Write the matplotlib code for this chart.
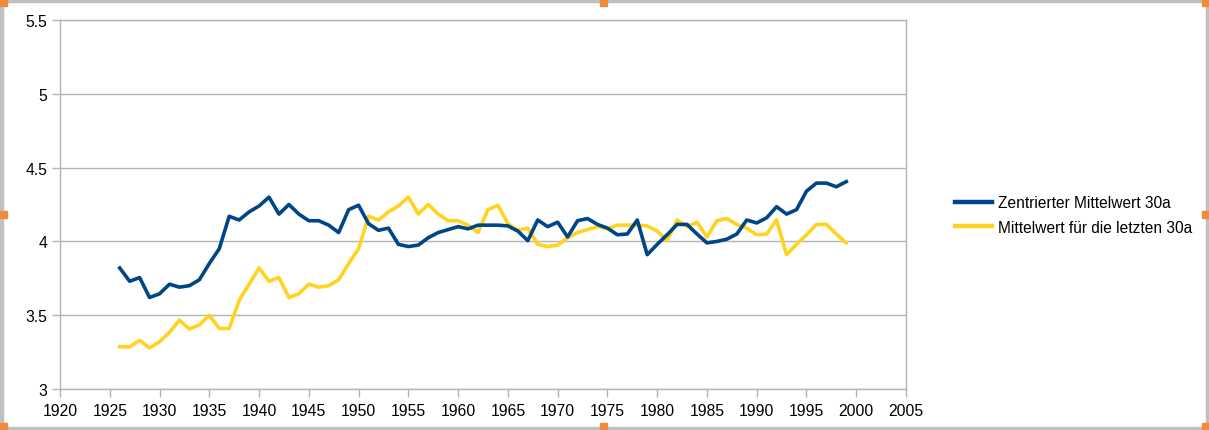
import matplotlib
matplotlib.use("Agg")
import matplotlib.pyplot as plt
from matplotlib.patches import Rectangle

plt.rcParams["font.family"] = ["Liberation Sans", "DejaVu Sans"]

years = list(range(1926, 2000))

zentriert = [3.82, 3.73, 3.755, 3.62, 3.645, 3.71, 3.69, 3.70, 3.74, 3.85,
             3.95, 4.17, 4.145, 4.20, 4.24, 4.30, 4.185, 4.25, 4.185, 4.14,
             4.14, 4.11, 4.06, 4.215, 4.245, 4.12, 4.075, 4.09, 3.98, 3.965,
             3.975, 4.025, 4.06, 4.08, 4.10, 4.085, 4.11, 4.11, 4.11, 4.105,
             4.07, 4.005, 4.145, 4.10, 4.13, 4.03, 4.14, 4.155, 4.115, 4.09,
             4.045, 4.05, 4.145, 3.91, 3.98, 4.045, 4.115, 4.115, 4.05, 3.99,
             4.00, 4.015, 4.05, 4.145, 4.125, 4.16, 4.235, 4.185, 4.215, 4.34,
             4.395, 4.395, 4.37, 4.405]

letzte = [3.287, 3.285, 3.33, 3.278, 3.32, 3.384, 3.467, 3.406, 3.434, 3.50,
          3.41, 3.41, 3.60, 3.71, 3.82, 3.73, 3.755, 3.62, 3.645, 3.71,
          3.69, 3.70, 3.74, 3.85, 3.95, 4.17, 4.145, 4.20, 4.24, 4.30,
          4.185, 4.25, 4.185, 4.14, 4.14, 4.11, 4.06, 4.215, 4.245, 4.12,
          4.075, 4.09, 3.98, 3.965, 3.975, 4.025, 4.06, 4.08, 4.10, 4.085,
          4.11, 4.11, 4.11, 4.105, 4.07, 4.005, 4.145, 4.10, 4.13, 4.03,
          4.14, 4.155, 4.115, 4.09, 4.045, 4.05, 4.145, 3.91, 3.98, 4.045,
          4.115, 4.115, 4.05, 3.99]

labels = ["Zentrierter Mittelwert 30a", "Mittelwert für die letzten 30a"]
xticks = list(range(1920, 2006, 5))
yticks = [3, 3.5, 4, 4.5, 5, 5.5]
ytick_labels = ["3", "3.5", "4", "4.5", "5", "5.5"]

W, H = 1209, 431
fig = plt.figure(figsize=(W / 100, H / 100), dpi=100)
ax = fig.add_axes([60 / W, (H - 390) / H, 846 / W, 369 / H])

grid_c = "#b3b3b3"
ax.plot(years, zentriert, color="#004586", lw=2.6, label=labels[0], zorder=3)
ax.plot(years, letzte, color="#ffd320", lw=2.6, label=labels[1], zorder=2)

ax.set_xlim(1920, 2005)
ax.set_ylim(3, 5.5)
ax.set_xticks(xticks)
ax.set_yticks(yticks)
ax.set_yticklabels(ytick_labels)
ax.yaxis.grid(True, color=grid_c, lw=1.0)
ax.set_axisbelow(True)
for s in ["left", "right", "bottom", "top"]:
    ax.spines[s].set_color(grid_c)
    ax.spines[s].set_linewidth(1.0)
ax.tick_params(axis="both", color=grid_c, length=6, width=1.0,
               labelsize=11.3, labelcolor="#000000")
ax.tick_params(axis="x", pad=4)
ax.tick_params(axis="y", pad=3)

leg = fig.legend(loc="center left", bbox_to_anchor=(941 / W, 1 - 216 / H),
                 frameon=False, fontsize=11.2, handlelength=2.4,
                 handletextpad=0.35, labelspacing=0.6)
for ln in leg.get_lines():
    ln.set_linewidth(3.2)

# frame and selection handles
b = "#c0c0c0"
fig.patches.append(Rectangle((0, 0), 1, 3 / H, transform=fig.transFigure, color=b, zorder=0))
fig.patches.append(Rectangle((0, 1 - 3 / H), 1, 3 / H, transform=fig.transFigure, color=b, zorder=0))
fig.patches.append(Rectangle((0, 0), 3 / W, 1, transform=fig.transFigure, color=b, zorder=0))
fig.patches.append(Rectangle((1 - 3 / W, 0), 3 / W, 1, transform=fig.transFigure, color=b, zorder=0))
for hx in [0, 600, 1202]:
    for hy in [0, 212, 424]:
        if hx == 600 and hy == 212:
            continue
        fig.patches.append(Rectangle((hx / W, 1 - (hy + 7) / H), 7 / W, 7 / H,
                                     transform=fig.transFigure, color="#f08a3c", zorder=5))

fig.savefig("out.png", dpi=100)
